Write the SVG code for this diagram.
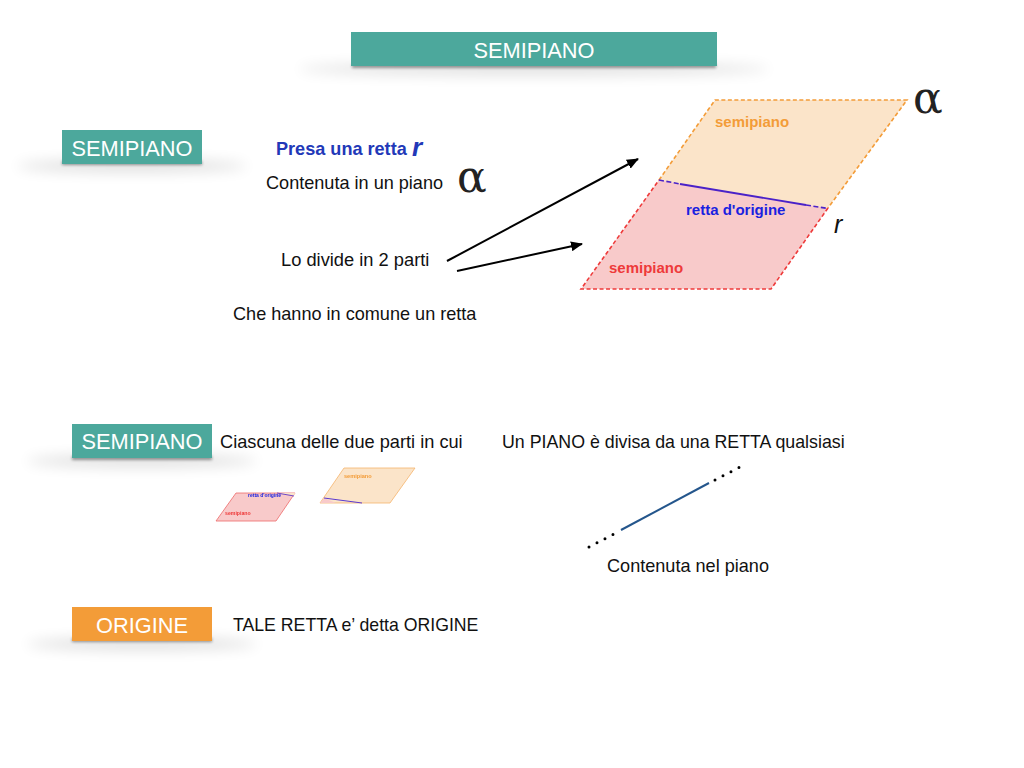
<svg xmlns="http://www.w3.org/2000/svg" width="1024" height="768" viewBox="0 0 1024 768">
<style>
text{font-family:"Liberation Sans",Arial,sans-serif;fill:#111}
.lab{font-size:18.1px}
.btn{fill:#fff;font-size:21.8px;text-anchor:middle}
.teal{fill:#4ca89c}
.org{fill:#f39c38}
.sh{fill:#000;opacity:.13;filter:url(#b)}
.sh2{fill:#000;opacity:.4;filter:url(#b2)}
.al{font-family:"DejaVu Serif","Liberation Serif",serif;font-size:44px;fill:#222}
.s{font-weight:bold;font-size:15px}
.ar{stroke:#000;stroke-width:2;fill:none;marker-end:url(#arr)}
</style>
<defs>
<filter id="b" x="-30%" y="-300%" width="160%" height="700%"><feGaussianBlur stdDeviation="7"/></filter>
<filter id="b2" x="-10%" y="-300%" width="120%" height="700%"><feGaussianBlur stdDeviation="1.5"/></filter>
<filter id="s1" x="-10%" y="-10%" width="120%" height="120%"><feGaussianBlur stdDeviation="0.5"/></filter>
<marker id="arr" viewBox="0 0 12 10" refX="11" refY="5" markerWidth="12" markerHeight="10" markerUnits="userSpaceOnUse" orient="auto"><path d="M0 0L12 5L0 10Z" fill="#000"/></marker>
</defs>

<g id="title">
<ellipse class="sh" cx="534" cy="69" rx="235" ry="6"/>
<rect class="sh2" x="352" y="64" width="364" height="4"/>
<rect class="teal" x="351" y="32" width="366" height="34"/>
<text class="btn" x="534" y="58">SEMIPIANO</text>
</g>
<g id="badge-semipiano-1">
<ellipse class="sh" cx="132" cy="166" rx="115" ry="6"/>
<rect class="sh2" x="62" y="161" width="140" height="4"/>
<rect class="teal" x="62" y="130" width="140" height="34"/>
<text class="btn" x="132" y="156">SEMIPIANO</text>
</g>
<g id="badge-semipiano-2">
<ellipse class="sh" cx="142" cy="461" rx="115" ry="6"/>
<rect class="sh2" x="72" y="456" width="140" height="4"/>
<rect class="teal" x="72" y="424" width="140" height="34"/>
<text class="btn" x="142" y="449">SEMIPIANO</text>
</g>
<g id="badge-origine">
<ellipse class="sh" cx="142" cy="644" rx="115" ry="6"/>
<rect class="sh2" x="72" y="638" width="140" height="4"/>
<rect class="org" x="72" y="607" width="140" height="34"/>
<text class="btn" x="142" y="633">ORIGINE</text>
</g>

<g id="text-presa">
<text x="276" y="155" style="font-size:18.100px;font-weight:bold;fill:#2238b8">Presa una retta</text>
<text x="412" y="156" style="font-size:26px;font-weight:bold;font-style:italic;fill:#2238b8">r</text>
</g>
<g id="text-contenuta">
<text class="lab" x="266" y="189">Contenuta in un piano</text>
<text class="al" x="457" y="192">α</text>
</g>
<text id="text-divide" class="lab" x="281" y="266" style="font-size:18.300px">Lo divide in 2 parti</text>
<text id="text-comune" class="lab" x="233" y="320">Che hanno in comune un retta</text>
<text id="text-ciascuna" class="lab" x="220" y="448" style="font-size:18.200px">Ciascuna delle due parti in cui</text>
<text id="text-piano" class="lab" x="502" y="448" style="font-size:17.800px">Un PIANO è divisa da una RETTA qualsiasi</text>
<text id="text-contenuta-piano" class="lab" x="607" y="572">Contenuta nel piano</text>
<text id="text-tale" class="lab" x="233" y="631" style="font-size:17.700px">TALE RETTA e’ detta ORIGINE</text>

<g id="plane-upper">
<path d="M715 100H907L828 208L659 180Z" fill="#fbe4c9"/>
<path d="M659 180L715 100H907L828 208" fill="none" stroke="#f39c38" stroke-width="1.6" stroke-dasharray="4 2.5"/>
<text class="s" x="715" y="127" style="fill:#f39c38">semipiano</text>
</g>
<g id="plane-lower">
<path d="M659 180L828 208L771 289H581Z" fill="#f8caca"/>
<path d="M828 208L771 289H581L659 180" fill="none" stroke="#ee3a3a" stroke-width="1.6" stroke-dasharray="4 2.5"/>
<text class="s" x="609" y="273" style="fill:#ee3a3a">semipiano</text>
</g>
<g id="origin-line">
<path d="M659 180L680 184" stroke="#4a22c8" stroke-width="1.6" stroke-dasharray="5 2.5" fill="none"/>
<path d="M680 184L806 205" stroke="#4a22c8" stroke-width="1.8" fill="none"/>
<path d="M806 205L828 208.500" stroke="#4a22c8" stroke-width="1.6" stroke-dasharray="5 2.5" fill="none"/>
<text class="s" x="686" y="215" style="fill:#1a22e0">retta d'origine</text>
</g>
<text id="label-alpha" class="al" x="913" y="113">α</text>
<text id="label-r" x="834" y="233" style="font-size:25px;font-style:italic;fill:#111">r</text>

<g id="mini-lower" filter="url(#s1)">
<path d="M236 493H295L276 521H216Z" fill="#f8caca" stroke="#ee6a6a" stroke-width=".8"/>
<path d="M277 493H295L294 496Z" fill="#fbe4c9"/>
<path d="M277 493L294 496" stroke="#4a22c8" stroke-width=".8"/>
<text x="248" y="497" style="font-size:5px;font-weight:bold;fill:#1a22e0">retta d'origine</text>
<text x="225" y="515" style="font-size:5.200px;font-weight:bold;fill:#ee3a3a">semipiano</text>
</g>
<g id="mini-upper" filter="url(#s1)">
<path d="M344 468H415L390 503H320Z" fill="#fbe4c9" stroke="#f5b46c" stroke-width=".8"/>
<path d="M320 503L324 498L336 503Z" fill="#f8caca"/>
<path d="M324 498L362 503" stroke="#5a3ad0" stroke-width="1"/>
<text x="344" y="478" style="font-size:5.600px;font-weight:bold;fill:#f39c38">semipiano</text>
</g>

<g id="connectors">
<path class="ar" d="M447 261L638 159"/>
<path class="ar" d="M457 271L582 244"/>
<path d="M621 530L709 483" stroke="#24568c" stroke-width="2" fill="none"/>
<path d="M589 547L614 534M715 480L740 467" stroke="#000" stroke-width="3" stroke-linecap="round" stroke-dasharray="0 9" fill="none"/>
</g>
</svg>
